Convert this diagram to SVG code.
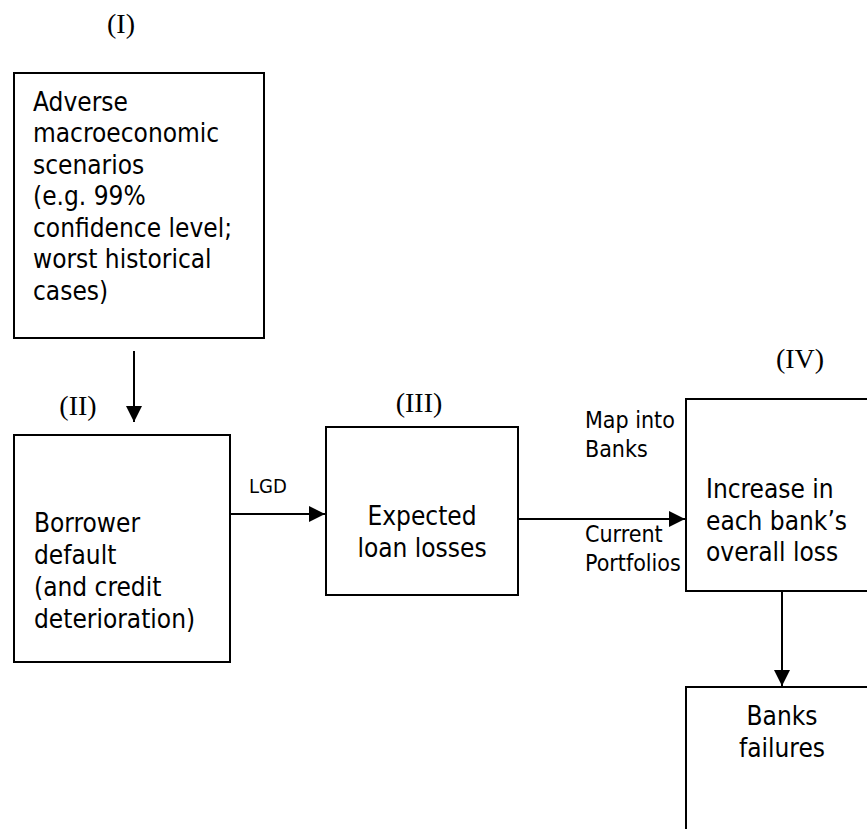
<svg xmlns="http://www.w3.org/2000/svg" width="867" height="829" viewBox="0 0 867 829">
<style>
.box{fill:#fff;stroke:#000;stroke-width:2}
.t{font-family:"DejaVu Sans Condensed","DejaVu Sans",sans-serif;font-stretch:condensed;font-size:26px;fill:#000}
.s{font-family:"DejaVu Sans Condensed","DejaVu Sans",sans-serif;font-stretch:condensed;font-size:23px;fill:#000}
.r{font-family:"Liberation Serif",serif;font-size:28px;fill:#000;text-anchor:middle}
.c{stroke:#000;stroke-width:2;fill:none}
.m{text-anchor:middle}
</style>
<defs>
<marker id="ah" markerWidth="16" markerHeight="16" refX="16" refY="8" orient="auto" markerUnits="userSpaceOnUse">
<path d="M0,0 L16,8 L0,16 Z" fill="#000"/>
</marker>
</defs>
<g id="labels">
<text class="r" x="121" y="33">(I)</text>
<text class="r" x="78" y="415">(II)</text>
<text class="r" x="419" y="412">(III)</text>
<text class="r" x="800" y="368">(IV)</text>
</g>
<g id="n1">
<rect class="box" x="14" y="73" width="250" height="265"/>
<text class="t" x="33"><tspan x="33" y="110.5">Adverse</tspan><tspan x="33" y="142">macroeconomic</tspan><tspan x="33" y="173.5">scenarios</tspan><tspan x="33" y="205">(e.g. 99%</tspan><tspan x="33" y="236.5">confidence level;</tspan><tspan x="33" y="268">worst historical</tspan><tspan x="33" y="299.5">cases)</tspan></text>
</g>
<g id="n2">
<rect class="box" x="14" y="435" width="216" height="227"/>
<text class="t"><tspan x="34" y="532">Borrower</tspan><tspan x="34" y="564">default</tspan><tspan x="34" y="596">(and credit</tspan><tspan x="34" y="628">deterioration)</tspan></text>
</g>
<g id="n3">
<rect class="box" x="326" y="427" width="192" height="168"/>
<text class="t m"><tspan x="422" y="525">Expected</tspan><tspan x="422" y="557">loan losses</tspan></text>
</g>
<g id="n4">
<rect class="box" x="686" y="399" width="220" height="192"/>
<text class="t"><tspan x="706" y="498">Increase in</tspan><tspan x="706" y="530">each bank’s</tspan><tspan x="706" y="561">overall loss</tspan></text>
</g>
<g id="n5">
<rect class="box" x="686" y="687" width="220" height="200"/>
<text class="t m"><tspan x="782" y="725">Banks</tspan><tspan x="782" y="757">failures</tspan></text>
</g>
<g id="connectors">
<line class="c" x1="134" y1="351" x2="134" y2="422" marker-end="url(#ah)"/>
<line class="c" x1="230" y1="514" x2="325" y2="514" marker-end="url(#ah)"/>
<line class="c" x1="518" y1="519" x2="685" y2="519" marker-end="url(#ah)"/>
<line class="c" x1="782" y1="591" x2="782" y2="686" marker-end="url(#ah)"/>
<text class="s" x="249" y="493" style="font-size:20px">LGD</text>
<text class="s"><tspan x="585" y="428">Map into</tspan><tspan x="585" y="457">Banks</tspan></text>
<text class="s"><tspan x="585" y="542">Current</tspan><tspan x="585" y="571">Portfolios</tspan></text>
</g>
</svg>
